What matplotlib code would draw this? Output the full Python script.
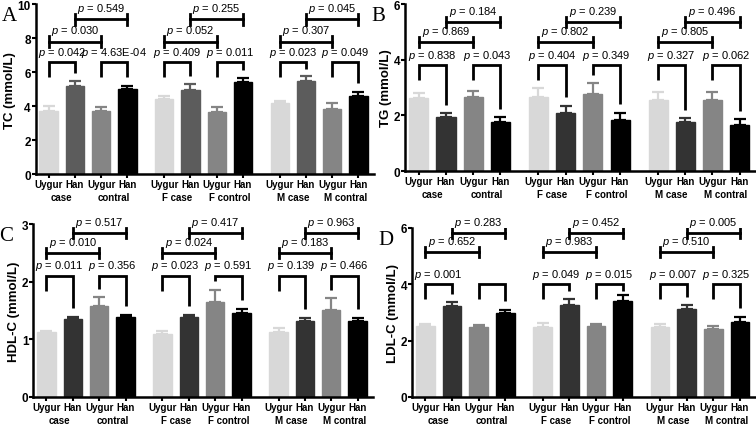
import matplotlib
matplotlib.use("Agg")
import matplotlib.pyplot as plt
import numpy as np

plt.rcParams['font.family'] = ['Liberation Sans', 'DejaVu Sans']
plt.rcParams['mathtext.fontset'] = 'custom'
plt.rcParams['mathtext.it'] = 'Liberation Sans:italic'
plt.rcParams['mathtext.rm'] = 'Liberation Sans'

# Data (mean and upper error)
bar_labels = ["Uygur", "Han", "Uygur", "Han"]
sub_labels = [["case", "contral"], ["F case", "F control"], ["M case", "M contral"]]

tc_mean = [[3.70, 5.18, 3.70, 5.00], [4.40, 4.94, 3.65, 5.40], [4.18, 5.45, 3.82, 4.60]]
tc_err = [[0.30, 0.27, 0.25, 0.20], [0.17, 0.36, 0.29, 0.25], [0.12, 0.30, 0.34, 0.24]]
tc_p = [["0.042", "4.63E-04", "0.030", "0.549"],
        ["0.409", "0.011", "0.052", "0.255"],
        ["0.023", "0.049", "0.307", "0.045"]]

tg_mean = [[2.62, 1.93, 2.65, 1.77], [2.65, 2.10, 2.77, 1.85], [2.55, 1.75, 2.55, 1.66]]
tg_err = [[0.18, 0.15, 0.23, 0.16], [0.32, 0.25, 0.40, 0.25], [0.28, 0.15, 0.30, 0.21]]
tg_p = [["0.838", "0.043", "0.869", "0.184"],
        ["0.404", "0.349", "0.802", "0.239"],
        ["0.327", "0.062", "0.805", "0.496"]]

hdl_mean = [[1.12, 1.35, 1.57, 1.39], [1.09, 1.38, 1.65, 1.46], [1.13, 1.32, 1.51, 1.32]]
hdl_err = [[0.03, 0.04, 0.16, 0.04], [0.06, 0.04, 0.21, 0.07], [0.06, 0.05, 0.20, 0.05]]
hdl_p = [["0.011", "0.356", "0.010", "0.517"],
         ["0.023", "0.591", "0.024", "0.417"],
         ["0.139", "0.466", "0.183", "0.963"]]

ldl_mean = [[2.52, 3.23, 2.48, 2.98], [2.50, 3.26, 2.52, 3.40], [2.50, 3.12, 2.41, 2.66]]
ldl_err = [[0.07, 0.14, 0.07, 0.11], [0.12, 0.22, 0.08, 0.22], [0.10, 0.14, 0.11, 0.18]]
ldl_p = [["0.001", "", "0.652", "0.283"],
         ["0.049", "0.015", "0.983", "0.452"],
         ["0.007", "0.325", "0.510", "0.005"]]

panels = [
    dict(tag="A", ylabel="TC (mmol/L)", mean=tc_mean, err=tc_err, p=tc_p, ymax=10,
         ticks=[0, 2, 4, 6, 8, 10], levels=(6.6, 7.8, 9.1), rect=[0.047, 0.590, 0.448, 0.398],
         han_case="#5c5c5c"),
    dict(tag="B", ylabel="TG (mmol/L)", mean=tg_mean, err=tg_err, p=tg_p, ymax=6,
         ticks=[0, 2, 4, 6], levels=(3.8, 4.65, 5.35), rect=[0.536, 0.597, 0.464, 0.391],
         han_case="#333333"),
    dict(tag="C", ylabel="HDL-C (mmol/L)", mean=hdl_mean, err=hdl_err, p=hdl_p, ymax=3,
         ticks=[0, 1, 2, 3], levels=(2.1, 2.5, 2.84), rect=[0.044, 0.068, 0.450, 0.405],
         han_case="#333333"),
    dict(tag="D", ylabel="LDL-C (mmol/L)", mean=ldl_mean, err=ldl_err, p=ldl_p, ymax=6,
         ticks=[0, 2, 4, 6], levels=(4.0, 5.14, 5.82), rect=[0.545, 0.068, 0.455, 0.396],
         han_case="#333333"),
]

group_gap = 4.4
width = 0.7
lw = 2.0

fig = plt.figure(figsize=(7.56, 4.27), dpi=100)

for pan in panels:
    ax = fig.add_axes(pan["rect"])
    ymax = pan["ymax"]
    colors = ["#d8d8d8", pan["han_case"], "#858585", "#000000"]
    xs_all = []
    for g in range(3):
        xs = g * group_gap + np.arange(4)
        xs_all.extend(xs)
        m = pan["mean"][g]
        e = pan["err"][g]
        for i in range(4):
            ax.bar(xs[i], m[i], width=width, color=colors[i], edgecolor=colors[i], zorder=2)
            ax.errorbar(xs[i], m[i], yerr=[[0], [e[i]]], color=colors[i], capsize=4,
                        elinewidth=1.6, capthick=1.6, zorder=1)
        tops = [m[i] + e[i] for i in range(4)]
        lv_pair, lv_uy, lv_han = pan["levels"]
        pv = pan["p"][g]
        # pair brackets (Uygur vs Han in case and control)
        for a, b, txt in [(0, 1, pv[0]), (2, 3, pv[1])]:
            left_end = max(lv_pair - 0.09 * ymax, tops[a] + 0.05 * ymax)
            right_end = min(tops[b] + 0.05 * ymax, lv_pair - 0.04 * ymax)
            ax.plot([xs[a], xs[a], xs[b], xs[b]], [left_end, lv_pair, lv_pair, right_end],
                    color="black", lw=lw, solid_capstyle="butt", solid_joinstyle="miter")
            if txt:
                ax.text((xs[a] + xs[b]) / 2, lv_pair + 0.02 * ymax, r"$p$ = " + txt,
                        ha="center", va="bottom", fontsize=8)
        # wide brackets (case vs control)
        cap = 0.03 * ymax
        for a, b, lv, txt in [(0, 2, lv_uy, pv[2]), (1, 3, lv_han, pv[3])]:
            ax.plot([xs[a], xs[b]], [lv, lv], color="black", lw=lw)
            ax.plot([xs[a], xs[a]], [lv - cap, lv + cap], color="black", lw=lw)
            ax.plot([xs[b], xs[b]], [lv - cap, lv + cap], color="black", lw=lw)
            ax.text((xs[a] + xs[b]) / 2, lv + 0.025 * ymax, r"$p$ = " + txt,
                    ha="center", va="bottom", fontsize=8)
        # second row of x labels
        for k, lab in enumerate(sub_labels[g]):
            ax.annotate(lab, xy=((xs[2 * k] + xs[2 * k + 1]) / 2, 0),
                        xycoords=("data", "axes fraction"), xytext=(0, -16.5),
                        textcoords="offset points", ha="center", va="center",
                        fontsize=7, fontweight="bold")

    ax.set_xlim(-0.5, 12.4)
    ax.set_ylim(0, ymax)
    ax.set_yticks(pan["ticks"])
    ax.set_xticks(xs_all)
    ax.set_xticklabels(bar_labels * 3, fontsize=7, fontweight="bold")
    for t in ax.get_yticklabels():
        t.set_fontweight("bold")
        t.set_fontsize(8.5)
    ax.tick_params(axis="both", width=1.5, length=3, pad=0.5)
    for s in ["top", "right"]:
        ax.spines[s].set_visible(False)
    for s in ["left", "bottom"]:
        ax.spines[s].set_linewidth(1.8)
    ax.set_ylabel(pan["ylabel"], fontsize=9.5, fontweight="bold", labelpad=1)
    # panel letter, placed in figure pixels left of the axis
    x0 = pan["rect"][0] * 756 - 34
    ax.annotate(pan["tag"], xy=(0, 1), xycoords="axes fraction",
                xytext=(-34 * 0.72, -1.5), textcoords="offset points",
                fontsize=15, family="Liberation Serif", ha="left", va="top")

fig.savefig("out.png", dpi=100)
